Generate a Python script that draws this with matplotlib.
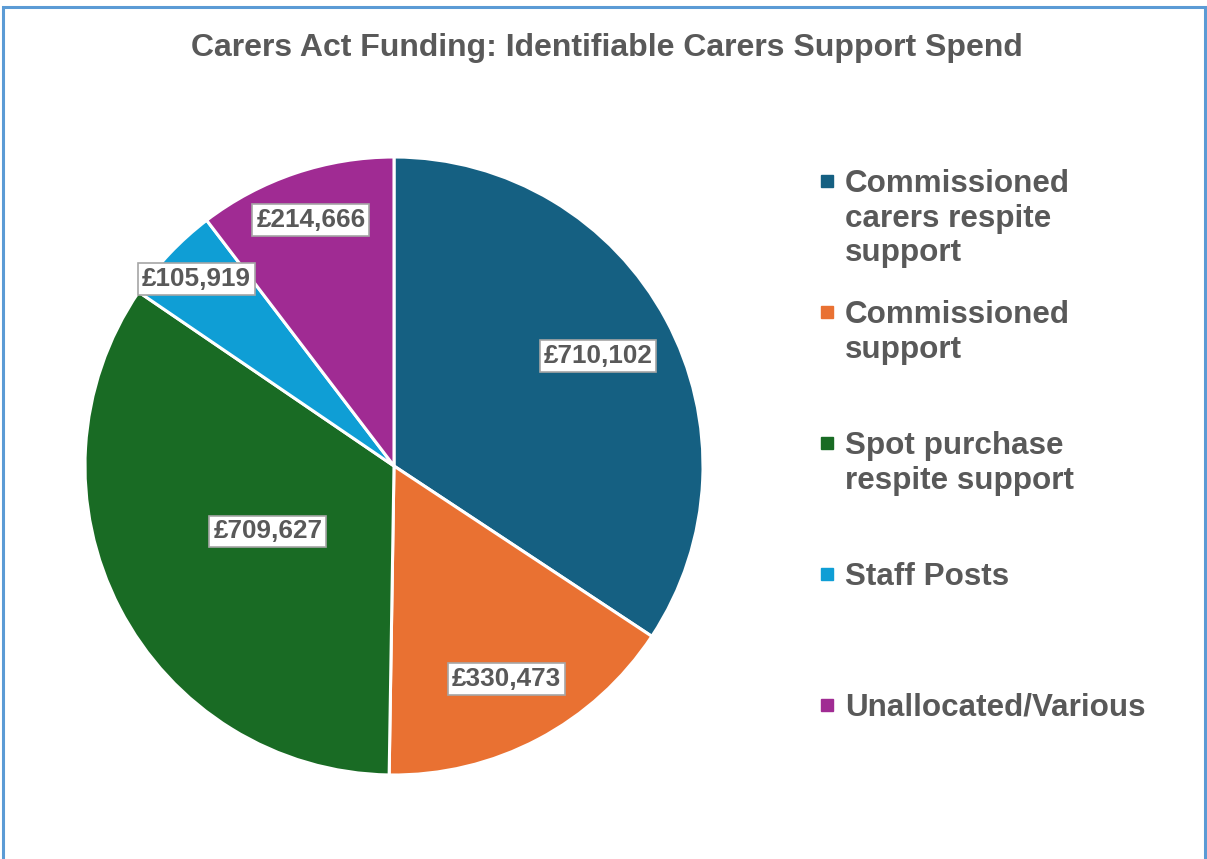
import matplotlib
matplotlib.use("Agg")
import matplotlib.pyplot as plt
import numpy as np

# Spend by category (GBP)
categories = [
    "Commissioned\ncarers respite\nsupport",
    "Commissioned\nsupport",
    "Spot purchase\nrespite support",
    "Staff Posts",
    "Unallocated/Various",
]
spend = [710102, 330473, 709627, 105919, 214666]
value_labels = ["£710,102", "£330,473", "£709,627", "£105,919", "£214,666"]

colors = ["#156082", "#E97132", "#196B24", "#0F9ED5", "#A02B93"]
label_radius = [0.75, 0.78, 0.46, 0.88, 0.84]

TEXT = "#595959"
W, H = 1207, 859
plt.rcParams["font.family"] = ["Liberation Sans", "DejaVu Sans"]

fig = plt.figure(figsize=(W / 100, H / 100), dpi=100)

# overlay in pixel coordinates for frame and legend
over = fig.add_axes([0, 0, 1, 1])
over.set_xlim(0, W)
over.set_ylim(H, 0)
over.axis("off")
over.plot([2.5, 2.5, 1205, 1205], [870, 7, 7, 870], color="#5B9BD5",
          lw=2.2, solid_joinstyle="miter")

over.text(607, 56, "Carers Act Funding: Identifiable Carers Support Spend",
          ha="center", va="baseline", fontsize=23, fontweight="bold", color=TEXT)

# pie axes: centre (394, 466), radius ~309 px
r = 309
ax = fig.add_axes([(394 - r) / W, 1 - (466 + r) / H, 2 * r / W, 2 * r / H])
wedges, _ = ax.pie(spend, colors=colors, startangle=90, counterclock=False,
                   labeldistance=None,
                   wedgeprops=dict(edgecolor="white", linewidth=2.2))
ax.set_xlim(-1, 1)
ax.set_ylim(-1, 1)
ax.set_aspect("auto")

for w, txt, lr in zip(wedges, value_labels, label_radius):
    mid = np.deg2rad((w.theta1 + w.theta2) / 2)
    ax.text(lr * np.cos(mid), lr * np.sin(mid), txt, ha="center", va="center",
            fontsize=18.8, fontweight="bold", color=TEXT,
            bbox=dict(boxstyle="square,pad=0.15", facecolor="white",
                      edgecolor="#A6A6A6", linewidth=1.2))

# legend: equal-height slots, marker level with the first text line
slot_top, slot_step = 181, 131
for i, (name, c) in enumerate(zip(categories, colors)):
    yc = slot_top + i * slot_step
    over.plot(827, yc, marker="s", markersize=8.5, color=c, linestyle="none")
    over.text(845, yc - 12, name, ha="left", va="top", fontsize=22.6,
              fontweight="bold", color=TEXT, linespacing=1.2)

fig.savefig("out.png", dpi=100, facecolor="white")
